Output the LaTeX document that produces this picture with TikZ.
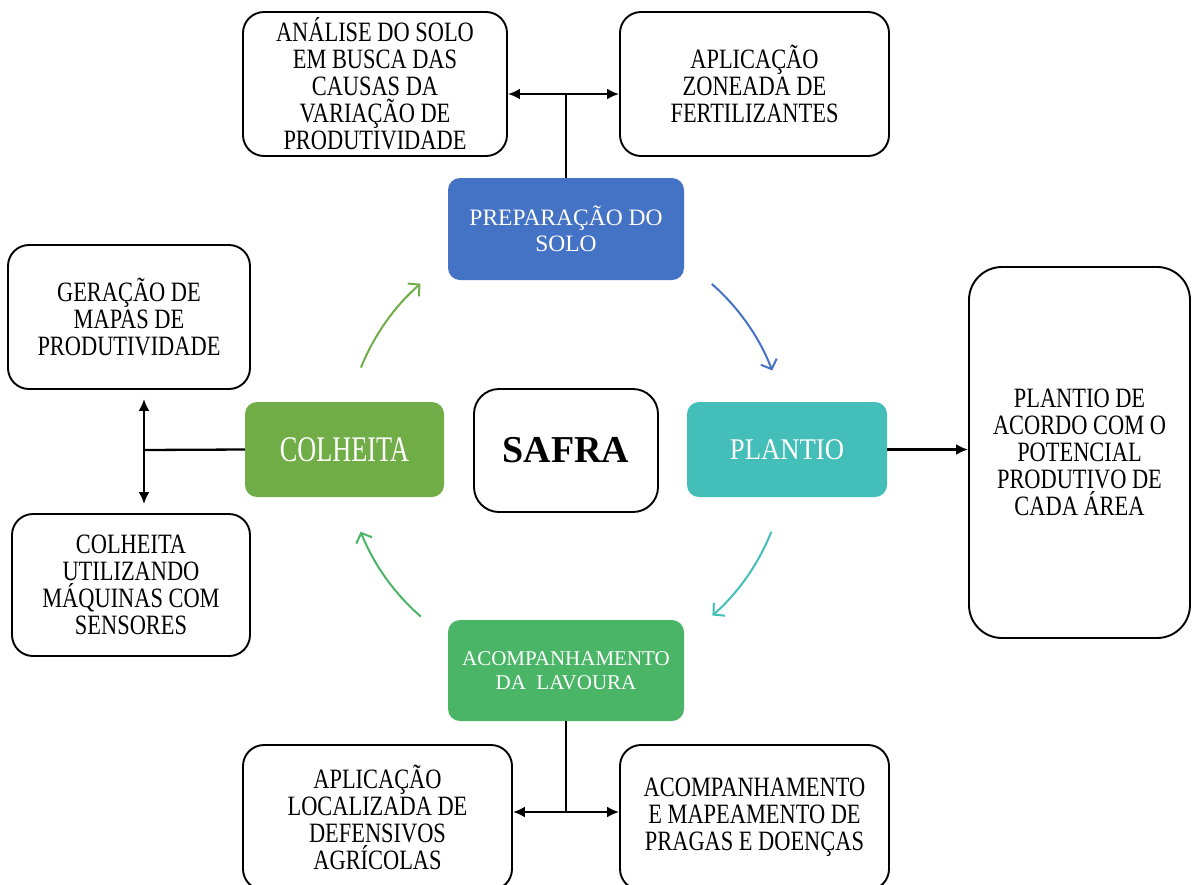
\documentclass[tikz,border=0pt]{standalone}
\usepackage{fontspec}
\setmainfont{Liberation Serif}
\newfontfamily\nserif[FakeStretch=0.8]{Liberation Serif}
\newfontfamily\cserif[FakeStretch=0.73]{Liberation Serif}
\newfontfamily\pserif[FakeStretch=0.89]{Liberation Serif}
\usetikzlibrary{arrows.meta}
\definecolor{prepblue}{HTML}{4472C4}
\definecolor{colgreen}{HTML}{70AD47}
\definecolor{plteal}{HTML}{43BEB9}
\definecolor{acgreen}{HTML}{4AB567}
\begin{document}
\begin{tikzpicture}[x=1pt,y=-1pt,
  outerbox/.style={draw=black, line width=1.9pt, rounded corners=21pt, align=center,
    inner sep=0pt, text=black, font=\nserif\fontsize{28}{27}\selectfont},
  innerbox/.style={rounded corners=12pt, align=center, inner sep=0pt, text=white},
  conn/.style={draw=black, line width=2.3pt},
  biarrow/.style={conn, {Latex[length=12pt,width=11pt]}-{Latex[length=12pt,width=11pt]}},
  onearrow/.style={conn, -{Latex[length=12pt,width=11pt]}},
  cyc/.style={line width=2pt, -{Straight Barb[length=8pt,width=17pt]}}]
\clip (0,0) rectangle (1192,884);
\fill[white] (0,0) rectangle (1192,884);

% outer boxes
\node[outerbox, minimum width=264pt, minimum height=144pt] (analise) at (375,84)
  {ANÁLISE DO SOLO\\EM BUSCA DAS\\CAUSAS DA\\VARIAÇÃO DE\\PRODUTIVIDADE};
\node[outerbox, minimum width=269pt, minimum height=144pt] (aplic) at (754.5,84)
  {APLICAÇÃO\\ZONEADA DE\\FERTILIZANTES};
\node[outerbox, minimum width=242pt, minimum height=144pt] (geracao) at (129,317)
  {GERAÇÃO DE\\MAPAS DE\\PRODUTIVIDADE};
\node[outerbox, minimum width=238pt, minimum height=142pt] (colutil) at (131,585)
  {COLHEITA\\UTILIZANDO\\MÁQUINAS COM\\SENSORES};
\node[outerbox, rounded corners=33pt, minimum width=221pt, minimum height=371pt] (plantio2) at (1079.5,452.5)
  {PLANTIO DE\\ACORDO COM O\\POTENCIAL\\PRODUTIVO DE\\CADA ÁREA};
\node[outerbox, minimum width=269pt, minimum height=145pt] (aplloc) at (377.5,817.5)
  {APLICAÇÃO\\LOCALIZADA DE\\DEFENSIVOS\\AGRÍCOLAS};
\node[outerbox, minimum width=269pt, minimum height=145pt] (acmap) at (754.5,817.5)
  {ACOMPANHAMENTO\\E MAPEAMENTO DE\\PRAGAS E DOENÇAS};

% central boxes
\node[innerbox, fill=prepblue, minimum width=236pt, minimum height=102pt,
  font=\fontsize{23.5}{26}\selectfont] (prep) at (566,229) {PREPARAÇÃO DO\\SOLO};
\node[innerbox, fill=colgreen, minimum width=199pt, minimum height=95pt,
  font=\cserif\fontsize{36}{36}\selectfont] (colheita) at (344.5,449.5) {COLHEITA};
\node[outerbox, rounded corners=25pt, minimum width=184pt, minimum height=123pt,
  font=\bfseries\fontsize{38}{38}\selectfont] (safra) at (566,450.5) {SAFRA};
\node[innerbox, fill=plteal, minimum width=200pt, minimum height=95pt,
  font=\pserif\fontsize{30}{30}\selectfont] (plantio) at (787,449.5) {PLANTIO};
\node[innerbox, fill=acgreen, minimum width=236pt, minimum height=101pt,
  font=\fontsize{21}{24}\selectfont] (acomp) at (566,670.5) {ACOMPANHAMENTO\\DA\ \ LAVOURA};

% connectors
\coordinate (jt) at (566,94);
\draw[conn] (prep.north) -- (jt);
\draw[biarrow] (analise.east |- jt) -- (aplic.west |- jt);

\coordinate (jl) at (144,450);
\draw[conn] (colheita.west) -- (jl);
\draw[biarrow, shorten <=9pt, shorten >=9pt] (geracao.south -| jl) -- (colutil.north -| jl);

\draw[onearrow] (plantio.east) -- (plantio2.west |- plantio.east);

\coordinate (jb) at (566,812);
\draw[conn] (acomp.south) -- (jb);
\draw[biarrow] (aplloc.east |- jb) -- (acmap.west |- jb);

% cycle arrows
\coordinate (c) at (566,450);
\draw[cyc, draw=prepblue] ([shift={(48.7:221pt)}]c) arc[start angle=48.7, end angle=21.1, radius=221pt];
\draw[cyc, draw=plteal] ([shift={(-21.7:221pt)}]c) arc[start angle=-21.7, end angle=-48.5, radius=221pt];
\draw[cyc, draw=acgreen] ([shift={(228.9:221pt)}]c) arc[start angle=228.9, end angle=201.7, radius=221pt];
\draw[cyc, draw=colgreen] ([shift={(158.1:221pt)}]c) arc[start angle=158.1, end angle=131.2, radius=221pt];
\end{tikzpicture}
\end{document}
